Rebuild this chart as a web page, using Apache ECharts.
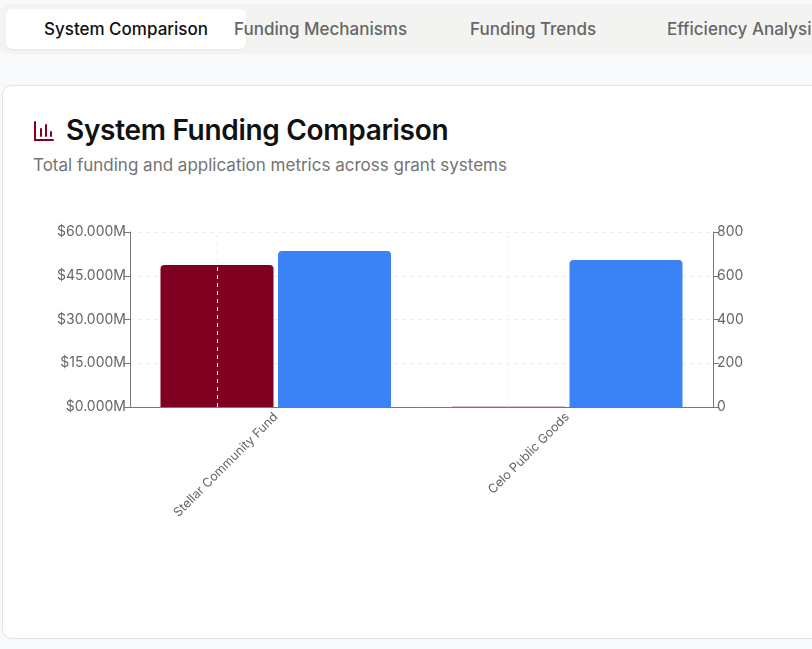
<!DOCTYPE html>
<html>
<head>
<meta charset="utf-8">
<script src="https://cdn.jsdelivr.net/npm/echarts@6/dist/echarts.min.js"></script>
<style>
body { margin:0; width:812px; height:649px; overflow:hidden; background:#f8f9fa; font-family:Inter, "Noto Sans", sans-serif; position:relative; }
.tabs { position:absolute; left:0; top:4px; width:830px; height:50px; background:#f3f4f1; border-radius:8px; }
.tab { position:absolute; top:5px; height:40px; line-height:40px; font-size:17px; color:#666; font-weight:500; white-space:nowrap; }
.tab.on { background:#fff; color:#111; border-radius:6px; left:6px; width:240px; text-align:center; box-shadow:0 1px 2px rgba(0,0,0,0.06); }
.card { position:absolute; left:2px; top:85px; width:830px; height:552px; background:#fff; border:1px solid #e2e2e2; border-radius:10px; }
h1 { position:absolute; left:66px; top:113px; margin:0; font-size:28px; font-weight:600; color:#111; letter-spacing:-0.3px; }
.sub { position:absolute; left:33px; top:155px; font-size:17px; color:#737373; }
#dv { position:absolute; left:0; top:200px; width:812px; height:430px; }
</style>
</head>
<body>
<div class="tabs">
  <div class="tab on">System Comparison</div>
  <div class="tab" style="left:234px">Funding Mechanisms</div>
  <div class="tab" style="left:470px">Funding Trends</div>
  <div class="tab" style="left:667px">Efficiency Analysis</div>
</div>
<div class="card"></div>
<svg style="position:absolute;left:33px;top:120px" width="22" height="22" viewBox="0 0 22 22" fill="none" stroke="#7f0020" stroke-width="2" stroke-linecap="round">
  <path d="M2 2v18h18"/><path d="M8 16V9"/><path d="M13 16V5"/><path d="M18 16v-4"/>
</svg>
<h1>System Funding Comparison</h1>
<div class="sub">Total funding and application metrics across grant systems</div>
<div id="dv"></div>
<script>
var systems = ['Stellar Community Fund', 'Celo Public Goods']
var funding = [48.7, 0.1]      // $M
var applications = [713, 672]
var fundTicks = [0, 15, 30, 45, 60]

var myChart = echarts.init(document.getElementById('dv'))
var option = {
    animation: false,
    grid: { left: 130, right: 99, top: 32, height: 175 },
    xAxis: {
        type: 'category',
        data: systems,
        axisLine: { lineStyle: { color: '#777' } },
        axisTick: { alignWithLabel: true, length: 6, lineStyle: { color: '#777' } },
        axisLabel: { rotate: 45, color: '#666', fontSize: 12.5, fontFamily: 'Inter', margin: 8 }
    },
    yAxis: [
        {
            type: 'value', min: 0, max: 60, interval: 15,
            axisLine: { show: true, lineStyle: { color: '#777' } },
            axisTick: { show: true, length: 6, lineStyle: { color: '#777' } },
            axisLabel: { color: '#666', fontSize: 14, fontFamily: 'Inter', margin: 4,
                formatter: function (v) { return '$' + v.toFixed(3) + 'M' } },
            splitLine: { lineStyle: { color: '#eee', type: [4, 4] } }
        },
        {
            type: 'value', min: 0, max: 800, interval: 200,
            axisLine: { show: true, lineStyle: { color: '#777' } },
            axisTick: { show: true, length: 6, lineStyle: { color: '#777' } },
            axisLabel: { color: '#666', fontSize: 14, fontFamily: 'Inter', margin: 4 },
            splitLine: { show: false }
        }
    ],
    series: [
        {
            name: 'Funding', type: 'bar', data: funding, yAxisIndex: 0,
            barWidth: 113, barGap: '4%',
            itemStyle: { color: '#7f0020', borderRadius: [4, 4, 0, 0] },
            markLine: {
                silent: true, symbol: 'none', label: { show: false },
                lineStyle: { color: '#eee', type: [4, 4], width: 1 },
                data: systems.map(function (s) { return { xAxis: s } })
            }
        },
        {
            name: 'Applications', type: 'bar', data: applications, yAxisIndex: 1,
            barWidth: 113,
            itemStyle: { color: '#3b82f6', borderRadius: [4, 4, 0, 0] }
        }
    ]
}
myChart.setOption(option)
</script>
</body>
</html>
